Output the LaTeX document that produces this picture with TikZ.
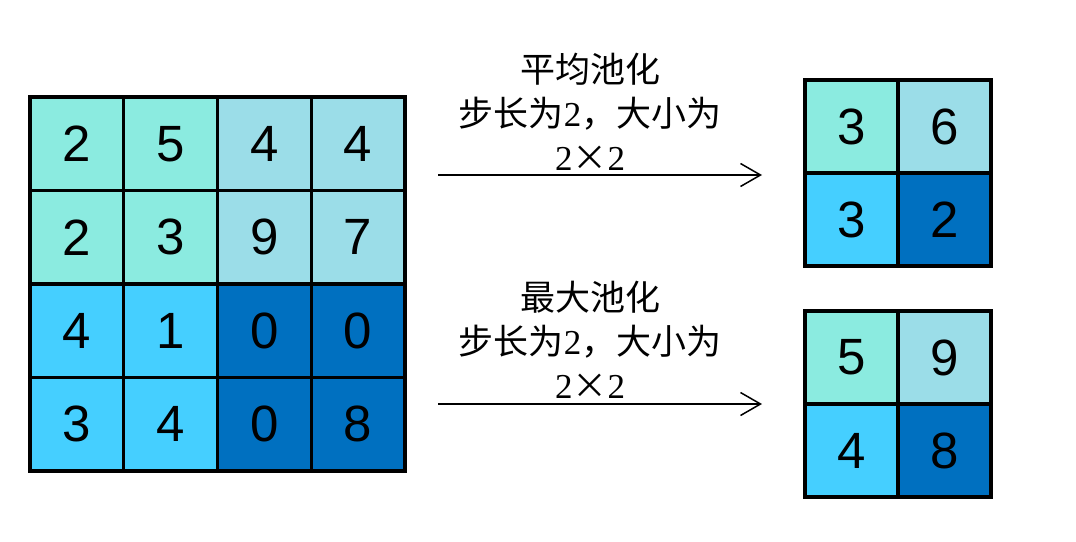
\documentclass[tikz,border=0pt]{standalone}
\usepackage{fontspec}
\setmainfont{Liberation Serif}
\setsansfont{Liberation Sans}
\newfontfamily\cjk{Noto Sans CJK SC}
\usetikzlibrary{positioning,arrows.meta}
\definecolor{q0}{RGB}{139,235,224}
\definecolor{q1}{RGB}{155,221,232}
\definecolor{q2}{RGB}{69,207,255}
\definecolor{q3}{RGB}{0,112,192}
\tikzset{
  cell/.style  = {draw=black, line width=3.2pt, inner sep=0pt,
                  minimum width=93.75pt, minimum height=93.5pt,
                  font=\sffamily\fontsize{51}{51}\selectfont},
  ocell/.style = {cell, minimum width=93pt, minimum height=93pt},
  optext/.style= {align=center, inner sep=0pt,
                  font=\cjk\fontsize{35}{44}\selectfont},
  flow/.style  = {line width=1.5pt, -{Straight Barb[length=20pt, width=23pt, line width=1.5pt]}},
}

\begin{document}
\begin{tikzpicture}[x=1pt, y=-1pt]
\useasboundingbox (0,0) rectangle (1076,541);

%── input 4x4 feature map ──────────────────────────
\foreach \row [count=\i from 0] in {{2,5,4,4},{2,3,9,7},{4,1,0,0},{3,4,0,8}}{
  \foreach \v [count=\j from 0] in \row {
    \pgfmathtruncatemacro{\q}{2*int(\i/2)+int(\j/2)}
    \node[cell, fill=q\q] (in\i\j) at ({30+93.75*(\j+0.5)},{97+93.5*(\i+0.5)}) {\v};
  }
}

%── average pooling ────────────────────────────────
\coordinate (avgS) at (438,175);
\coordinate (avgE) at (762,175);
\draw[flow] (avgS) -- (avgE);
\node[optext] (avgT) at (590,112)
  {平均池化\\步长为{\rmfamily 2}，大小为\\{\rmfamily 2}×{\rmfamily 2}};
\foreach \v [count=\k from 0] in {3,6,3,2}{
  \pgfmathtruncatemacro{\i}{int(\k/2)}
  \pgfmathtruncatemacro{\j}{mod(\k,2)}
  \node[ocell, fill=q\k] (avg\i\j) at ({805+93*(\j+0.5)},{80+93*(\i+0.5)}) {\v};
}

%── max pooling ────────────────────────────────────
\coordinate (maxS) at (438,404);
\coordinate (maxE) at (762,404);
\draw[flow] (maxS) -- (maxE);
\node[optext] (maxT) at (590,340)
  {最大池化\\步长为{\rmfamily 2}，大小为\\{\rmfamily 2}×{\rmfamily 2}};
\foreach \v [count=\k from 0] in {5,9,4,8}{
  \pgfmathtruncatemacro{\i}{int(\k/2)}
  \pgfmathtruncatemacro{\j}{mod(\k,2)}
  \node[ocell, fill=q\k] (max\i\j) at ({805+93*(\j+0.5)},{311+93*(\i+0.5)}) {\v};
}

\end{tikzpicture}
\end{document}
